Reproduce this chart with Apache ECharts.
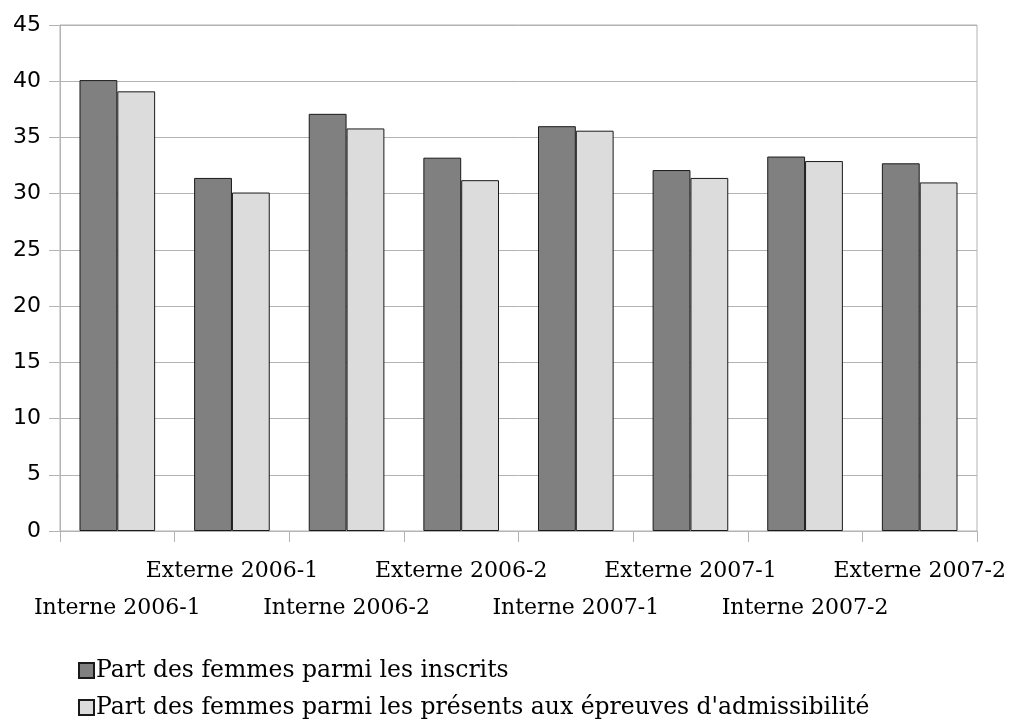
<!DOCTYPE html>
<html>
<head>
<meta charset="utf-8">
<script src="https://cdn.jsdelivr.net/npm/echarts@6/dist/echarts.min.js"></script>
<style>
  html, body { margin: 0; padding: 0; background: #fff; }
</style>
</head>
<body>
<!-- conteneur du graphique -->
<div id="container" style="width: 1009px; height: 724px"></div>
<script>
// catégories (concours)
const categories = [
  'Interne 2006-1', 'Externe 2006-1',
  'Interne 2006-2', 'Externe 2006-2',
  'Interne 2007-1', 'Externe 2007-1',
  'Interne 2007-2', 'Externe 2007-2'
]
// part des femmes parmi les inscrits
const inscrits = [40.1, 31.4, 37.1, 33.2, 36.0, 32.1, 33.3, 32.7]
// part des femmes parmi les présents
const presents = [39.1, 30.1, 35.8, 31.2, 35.6, 31.4, 32.9, 31.0]
const seriesNames = [
  'Part des femmes parmi les inscrits',
  "Part des femmes parmi les présents aux épreuves d'admissibilité"
]

const gridColor = '#b3b3b3'
const serif = 'DejaVu Serif'

var myChart = echarts.init(document.getElementById('container'))
const option = {
  animation: false,
  grid: {
    left: 60,
    right: 32,
    top: 25,
    bottom: 193,
    show: true,
    borderColor: gridColor,
    borderWidth: 1
  },
  legend: {
    orient: 'vertical',
    left: 78,
    top: 657,
    height: 120,
    padding: 0,
    itemWidth: 15,
    itemHeight: 15,
    itemGap: 10,
    icon: 'rect',
    textStyle: { fontFamily: serif, fontSize: 23.5, lineHeight: 27, color: '#000', padding: [0, 0, 0, -3] },
    data: seriesNames
  },
  xAxis: {
    type: 'category',
    data: categories,
    axisLine: { lineStyle: { color: gridColor } },
    axisTick: { show: true, length: 11, interval: 0, lineStyle: { color: gridColor } },
    axisLabel: {
      interval: 0,
      margin: 22,
      fontFamily: serif,
      fontSize: 22,
      lineHeight: 37,
      color: '#000',
      // étiquettes sur deux rangées alternées
      formatter: (value, index) => (index % 2 === 0 ? ' \n' + value : value)
    }
  },
  yAxis: {
    type: 'value',
    min: 0,
    max: 45,
    interval: 5,
    axisLine: { show: true, lineStyle: { color: gridColor } },
    axisTick: { show: true, length: 11, lineStyle: { color: gridColor } },
    splitLine: { lineStyle: { color: gridColor } },
    axisLabel: { fontFamily: 'DejaVu Sans', fontSize: 22, color: '#000', margin: 19 }
  },
  series: [
    {
      name: seriesNames[0],
      type: 'bar',
      data: inscrits,
      barGap: 0,
      barCategoryGap: '34%',
      itemStyle: { color: '#808080', borderColor: '#1a1a1a', borderWidth: 1 }
    },
    {
      name: seriesNames[1],
      type: 'bar',
      data: presents,
      barGap: 0,
      barCategoryGap: '34%',
      itemStyle: { color: '#dcdcdc', borderColor: '#1a1a1a', borderWidth: 1 }
    }
  ]
}
myChart.setOption(option)
</script>
</body>
</html>
